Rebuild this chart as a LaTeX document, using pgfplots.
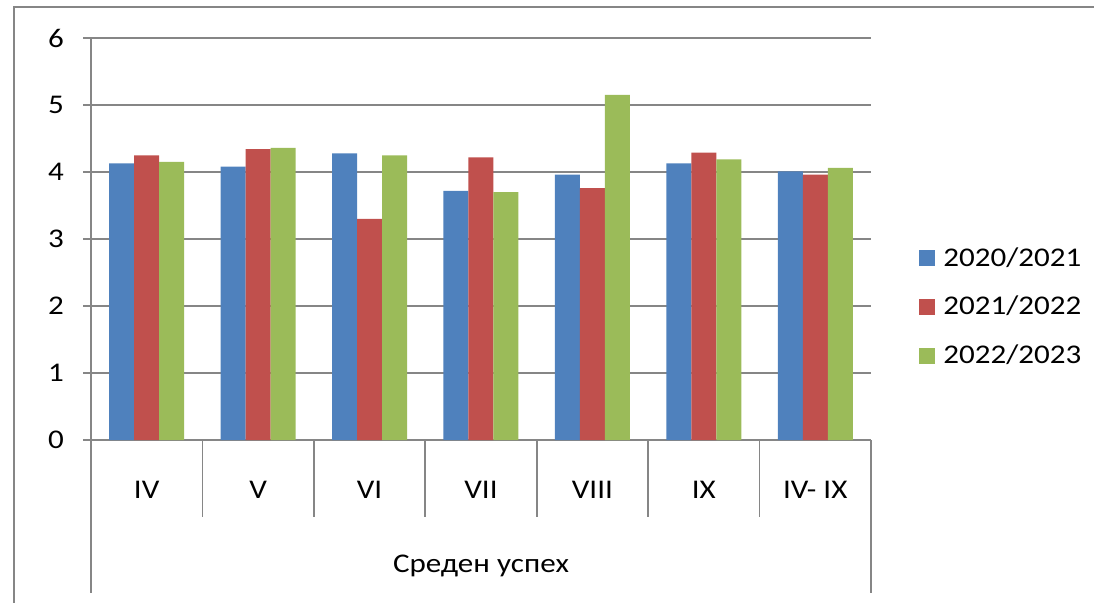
\documentclass[border=0pt]{standalone}
\usepackage{fontspec}
\setmainfont{Carlito}[FakeStretch=1.15]
\usepackage{pgfplots}
\pgfplotsset{compat=1.18}
\definecolor{cblue}{HTML}{4F81BD}
\definecolor{cred}{HTML}{C0504D}
\definecolor{cgreen}{HTML}{9BBB59}
\definecolor{cgrid}{RGB}{134,134,134}
\begin{document}
\begin{tikzpicture}[font=\fontsize{13.5pt}{15pt}\selectfont]
\useasboundingbox (0,0) rectangle (547pt,301pt);
\draw[cgrid,line width=1pt] (7pt,-1pt) -- (7pt,297.5pt) -- (548pt,297.5pt);
\begin{axis}[
  at={(45.5pt,81pt)}, anchor=south west,
  scale only axis, width=390pt, height=201pt,
  xmin=-0.5, xmax=6.5, ymin=0, ymax=6,
  ybar=0pt, bar width=12.5pt,
  xtick={0,...,6},
  xticklabels={IV,V,VI,VII,VIII,IX,IV- IX},
  x tick style={draw=none},
  xticklabel style={yshift=-13pt},
  ytick={0,...,6},
  y tick style={cgrid, line width=0.8pt},
  tick align=outside, major tick length=4pt,
  yticklabel style={xshift=-6pt},
  /pgf/number format/assume math mode=true,
  ymajorgrids, grid style={cgrid, line width=0.8pt},
  axis lines*=left,
  axis line style={cgrid, line width=0.8pt},
  clip=false,
  xlabel={Среден успех},
  xlabel style={at={(axis description cs:0.5,0)}, anchor=center, yshift=-63pt},
  legend style={at={(1,0.331)}, anchor=west, xshift=21pt, draw=none, fill=none,
    row sep=9.5pt, font=\fontsize{13.5pt}{15pt}\selectfont},
  legend cell align=left,
  legend image code/.code={\fill[#1] (0pt,-4pt) rectangle (8pt,4pt); \path (10pt,0pt);},
]
\addplot[fill=cblue, draw=none] coordinates {(0,4.13) (1,4.08) (2,4.28) (3,3.72) (4,3.96) (5,4.13) (6,4.01)};
\addplot[fill=cred, draw=none] coordinates {(0,4.25) (1,4.34) (2,3.30) (3,4.22) (4,3.76) (5,4.29) (6,3.96)};
\addplot[fill=cgreen, draw=none] coordinates {(0,4.15) (1,4.36) (2,4.25) (3,3.70) (4,5.15) (5,4.19) (6,4.06)};
\legend{2020/2021,2021/2022,2022/2023}
\draw[cgrid, line width=0.8pt] (axis cs:-0.5,0) -- ([yshift=-76.5pt]axis cs:-0.5,0);
\draw[cgrid, line width=0.8pt] (axis cs:6.5,0) -- ([yshift=-76.5pt]axis cs:6.5,0);
\draw[cgrid, line width=0.8pt] (axis cs:0.5,0) -- ([yshift=-38.5pt]axis cs:0.5,0);
\draw[cgrid, line width=0.8pt] (axis cs:1.5,0) -- ([yshift=-38.5pt]axis cs:1.5,0);
\draw[cgrid, line width=0.8pt] (axis cs:2.5,0) -- ([yshift=-38.5pt]axis cs:2.5,0);
\draw[cgrid, line width=0.8pt] (axis cs:3.5,0) -- ([yshift=-38.5pt]axis cs:3.5,0);
\draw[cgrid, line width=0.8pt] (axis cs:4.5,0) -- ([yshift=-38.5pt]axis cs:4.5,0);
\draw[cgrid, line width=0.8pt] (axis cs:5.5,0) -- ([yshift=-38.5pt]axis cs:5.5,0);
\end{axis}
\end{tikzpicture}
\end{document}
